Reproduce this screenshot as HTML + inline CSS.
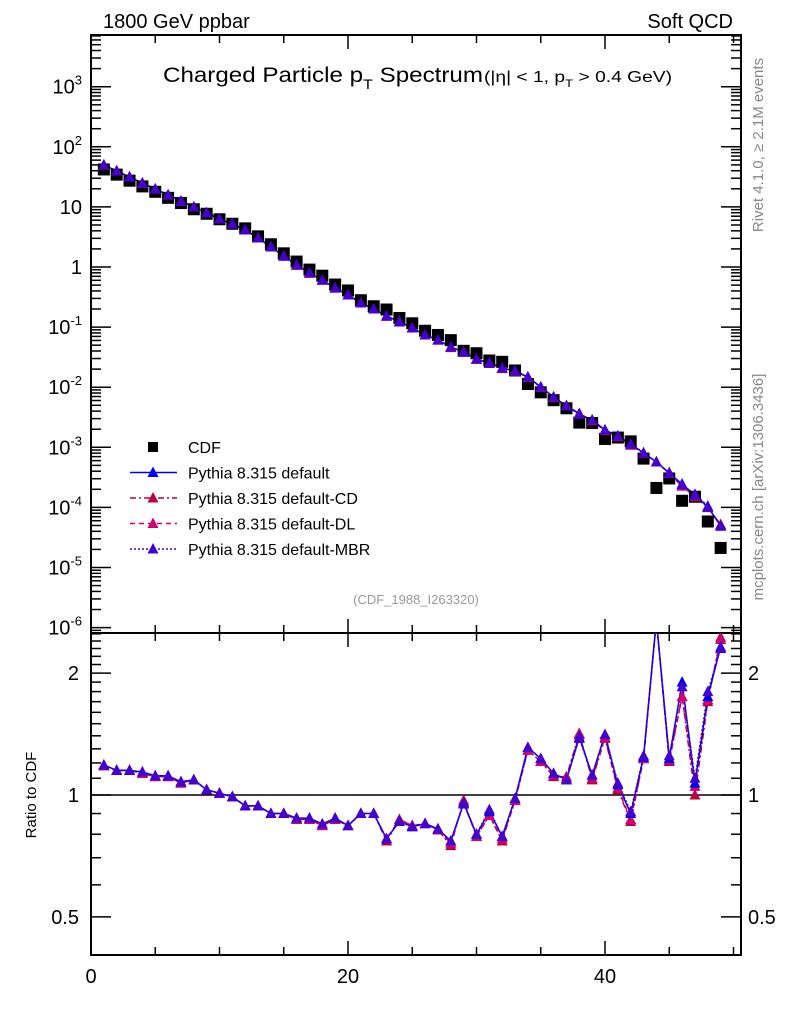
<!DOCTYPE html>
<html><head><meta charset="utf-8">
<style>
html,body{margin:0;padding:0;background:#fff;}
svg{display:block;font-family:"Liberation Sans",sans-serif;}
</style></head>
<body>
<svg id="chart" width="786" height="1024" viewBox="0 0 786 1024" xmlns="http://www.w3.org/2000/svg">
<text x="103" y="28" font-size="20">1800 GeV ppbar</text>
<text x="733" y="28" font-size="20" text-anchor="end">Soft QCD</text>
<text x="163" y="82" font-size="21" textLength="320" lengthAdjust="spacingAndGlyphs">Charged Particle p<tspan font-size="14" dy="7">T</tspan><tspan dy="-7"> Spectrum</tspan></text>
<text x="484" y="82" font-size="16" textLength="188" lengthAdjust="spacingAndGlyphs">(|η| &lt; 1, p<tspan font-size="11" dy="5">T</tspan><tspan dy="-5"> &gt; 0.4 GeV)</tspan></text>
<text x="416" y="604" font-size="13" fill="#999" text-anchor="middle">(CDF_1988_I263320)</text>
<text transform="translate(763,145) rotate(-90)" font-size="15" fill="#888" text-anchor="middle">Rivet 4.1.0, ≥ 2.1M events</text>
<text transform="translate(763,487) rotate(-90)" font-size="15" fill="#888" text-anchor="middle">mcplots.cern.ch [arXiv:1306.3436]</text>
<text transform="translate(36,795) rotate(-90)" font-size="15" text-anchor="middle">Ratio to CDF</text>
<g id="axes"></g>
<g id="marks"></g>
<g id="legend"></g>
</svg>
<script>
const bins = [1,2,3,4,5,6,7,8,9,10,11,12,13,14,15,16,17,18,19,20,21,22,23,24,25,26,27,28,29,30,31,32,33,34,35,36,37,38,39,40,41,42,43,44,45,46,47,48,49];
const mcDefault = [49.8,39.6,31.4,25.0,19.9,15.8,12.5,9.96,7.92,6.29,5.19,4.13,3.04,2.15,1.52,1.08,0.794,0.608,0.448,0.342,0.252,0.200,0.153,0.122,0.0966,0.0739,0.0610,0.0467,0.0385,0.0294,0.0253,0.0209,0.0186,0.0148,0.0101,0.00687,0.00486,0.00358,0.00284,0.00194,0.00154,0.00113,0.000804,0.000569,0.000373,0.000245,0.000161,0.000102,0.0000491];
const ratioDefault = [1.186,1.15,1.15,1.14,1.116,1.116,1.078,1.09,1.03,1.01,0.99,0.94,0.94,0.90,0.90,0.877,0.877,0.848,0.877,0.84,0.90,0.90,0.78,0.86,0.835,0.85,0.825,0.77,0.955,0.80,0.91,0.79,0.98,1.31,1.23,1.13,1.09,1.39,1.12,1.41,1.06,0.90,1.24,2.7,1.23,1.90,1.07,1.75,2.32];
const ratioCD = [1.18,1.15,1.15,1.13,1.11,1.11,1.07,1.09,1.03,1.01,0.99,0.94,0.94,0.90,0.90,0.87,0.87,0.84,0.87,0.84,0.90,0.90,0.77,0.87,0.84,0.85,0.82,0.75,0.97,0.79,0.89,0.77,0.97,1.29,1.21,1.11,1.11,1.42,1.09,1.38,1.03,0.86,1.23,2.7,1.21,1.75,1.00,1.70,2.45];
const ratioDL = [1.18,1.15,1.15,1.13,1.11,1.11,1.07,1.09,1.03,1.01,0.99,0.94,0.94,0.90,0.90,0.87,0.87,0.84,0.87,0.84,0.90,0.90,0.78,0.87,0.84,0.85,0.82,0.76,0.96,0.79,0.89,0.78,0.97,1.29,1.21,1.12,1.10,1.41,1.10,1.39,1.04,0.87,1.23,2.7,1.22,1.75,1.05,1.72,2.42];
const ratioMBR = [1.186,1.15,1.15,1.14,1.116,1.116,1.078,1.09,1.03,1.01,0.99,0.94,0.94,0.90,0.90,0.877,0.877,0.848,0.877,0.84,0.90,0.90,0.78,0.86,0.835,0.85,0.825,0.77,0.95,0.80,0.92,0.79,0.98,1.31,1.23,1.13,1.09,1.38,1.12,1.41,1.07,0.91,1.25,2.7,1.25,1.85,1.10,1.80,2.30];
const cdf = mcDefault.map((v,i)=>v/ratioDefault[i]);
const mainTicks = ["10^-6","10^-5","10^-4","10^-3","10^-2","10^-1","1","10","10^2","10^3"];
const mainTickVals = [-6,-5,-4,-3,-2,-1,0,1,2,3];
const ratioTickLabels = ["0.5","1","2"];
const ratioTickVals = [0.5,1,2];
const xTickLabels = ["0","20","40"];
const xTickVals = [0,20,40];

const NS="http://www.w3.org/2000/svg";
const L=91,R=741,T=35,MB=633,B=955;
const xs=v=>L+v*12.85;
const ys=v=>267-Math.log10(v)*60.1;
const yr=v=>795-Math.log10(v)*405;
function mk(tag,attrs,parent){const e=document.createElementNS(NS,tag);for(const k in attrs)e.setAttribute(k,attrs[k]);parent.appendChild(e);return e;}
const ax=document.getElementById('axes');
const mg=document.getElementById('marks');
const lg=document.getElementById('legend');

let f1=mk('rect',{x:L,y:T,width:R-L,height:MB-T,fill:'none',stroke:'#000','stroke-width':2},ax);


let f2=mk('rect',{x:L,y:MB,width:R-L,height:B-MB,fill:'none',stroke:'#000','stroke-width':2},ax);



for(let v=0;v<=50;v+=5){
  const len=(v%20===0)?14:8;
  const x=xs(v);
  mk('line',{x1:x,x2:x,y1:T,y2:T+len,stroke:'#000','stroke-width':1.5},ax);
  mk('line',{x1:x,x2:x,y1:MB,y2:MB-len,stroke:'#000','stroke-width':1.5},ax);
  mk('line',{x1:x,x2:x,y1:MB,y2:MB+len,stroke:'#000','stroke-width':1.5},ax);
  mk('line',{x1:x,x2:x,y1:B,y2:B-len,stroke:'#000','stroke-width':1.5},ax);
}
xTickVals.forEach((v,i)=>{
  const t=mk('text',{x:xs(v),y:B+28,'font-size':20,'text-anchor':'middle'},ax);
  t.textContent=xTickLabels[i];
  
  
});

for(let d=-7;d<=3;d++){
  for(let m=1;m<=9;m++){
    const v=m*Math.pow(10,d); const y=ys(v);
    if(y<T||y>MB)continue;
    const len=m===1?20:10;
    mk('line',{x1:L,x2:L+len,y1:y,y2:y,stroke:'#000','stroke-width':1.5},ax);
    mk('line',{x1:R,x2:R-len,y1:y,y2:y,stroke:'#000','stroke-width':1.5},ax);
  }
}
mainTickVals.forEach((d,i)=>{
  const y=ys(Math.pow(10,d));
  const t=mk('text',{x:82,y:y+7,'font-size':20,'text-anchor':'end'},ax);
  const lab=mainTicks[i];
  if(lab.indexOf('^')>=0){
    const p=lab.split('^');
    t.textContent=p[0];
    const s=mk('tspan',{'font-size':13,dy:-9},t); s.textContent=p[1];
  } else t.textContent=lab;
  
  
});

[0.4,0.5,0.6,0.7,0.8,0.9,1,1.1,1.2,1.3,1.4,1.5,1.6,1.7,1.8,1.9,2,2.1,2.2,2.3,2.4,2.5].forEach(v=>{
  const y=yr(v); if(y<MB||y>B)return;
  const len=ratioTickVals.includes(v)?20:10;
  mk('line',{x1:L,x2:L+len,y1:y,y2:y,stroke:'#000','stroke-width':1.5},ax);
  mk('line',{x1:R,x2:R-len,y1:y,y2:y,stroke:'#000','stroke-width':1.5},ax);
});
ratioTickVals.forEach((v,i)=>{
  const y=yr(v);
  const t=mk('text',{x:79,y:y+7,'font-size':20,'text-anchor':'end'},ax);
  t.textContent=ratioTickLabels[i];
  
  
  const t2=mk('text',{x:748,y:y+7,'font-size':20},ax);
  t2.textContent=ratioTickLabels[i];
  
  
});
const one=mk('line',{x1:L,x2:R,y1:yr(1),y2:yr(1),stroke:'#000','stroke-width':1.5},ax);



const defs=mk('defs',{},mg);
const c1=mk('clipPath',{id:'cm'},defs); mk('rect',{x:L,y:T,width:R-L,height:MB-T},c1);
const c2=mk('clipPath',{id:'cr'},defs); mk('rect',{x:L,y:MB,width:R-L,height:B-MB},c2);
const gm=mk('g',{'clip-path':'url(#cm)'},mg);
const gr=mk('g',{'clip-path':'url(#cr)'},mg);

function tri(g,x,y,col,name){
  const p=mk('polygon',{points:`${x},${y-6} ${x-5.5},${y+4.5} ${x+5.5},${y+4.5}`,fill:col},g);
  
  
}
const series=[
  {name:'cd',col:'#bb0040',dash:'6,3,2,3',ratio:ratioCD},
  {name:'dl',col:'#cc0070',dash:'5,4',ratio:ratioDL},
  {name:'default',col:'#0000ee',dash:'',ratio:ratioDefault},
  {name:'mbr',col:'#4400cc',dash:'2,2',ratio:ratioMBR}
];
series.forEach(s=>{
  const mc=cdf.map((c,i)=>c*s.ratio[i]);
  const pm=bins.map((b,i)=>`${xs(b)},${ys(mc[i])}`).join(' ');
  const l1=mk('polyline',{points:pm,fill:'none',stroke:s.col,'stroke-width':1.5,'stroke-dasharray':s.dash},gm);
  
  
  const pr=bins.map((b,i)=>`${xs(b)},${yr(s.ratio[i])}`).join(' ');
  const l2=mk('polyline',{points:pr,fill:'none',stroke:s.col,'stroke-width':1.5,'stroke-dasharray':s.dash},gr);
  
  
});
bins.forEach((b,i)=>{
  const r=mk('rect',{x:xs(b)-6,y:ys(cdf[i])-6,width:12,height:12,fill:'#000'},gm);
  
  
});
series.forEach(s=>{
  bins.forEach((b,i)=>{
    tri(gm,xs(b),ys(cdf[i]*s.ratio[i]),s.col,'point-'+s.name);
    tri(gr,xs(b),yr(s.ratio[i]),s.col,'ratio-point-'+s.name);
  });
});

const rows=[
  {label:'CDF',type:'sq'},
  {label:'Pythia 8.315 default',col:'#0000ee',dash:''},
  {label:'Pythia 8.315 default-CD',col:'#bb0040',dash:'6,3,2,3'},
  {label:'Pythia 8.315 default-DL',col:'#cc0070',dash:'5,4'},
  {label:'Pythia 8.315 default-MBR',col:'#4400cc',dash:'2,2'}
];
rows.forEach((r,i)=>{
  const y=447+i*25.5;
  const g=mk('g',{},lg);
  
  
  if(r.type==='sq') mk('rect',{x:148,y:y-5,width:10,height:10,fill:'#000'},g);
  else {
    mk('line',{x1:130,x2:177,y1:y,y2:y,stroke:r.col,'stroke-width':1.5,'stroke-dasharray':r.dash},g);
    mk('polygon',{points:`153,${y-6} 147.5,${y+4.5} 158.5,${y+4.5}`,fill:r.col},g);
  }
  const t=mk('text',{x:188,y:y+6,'font-size':16},g);
  t.textContent=r.label;
});
</script>
</body></html>
